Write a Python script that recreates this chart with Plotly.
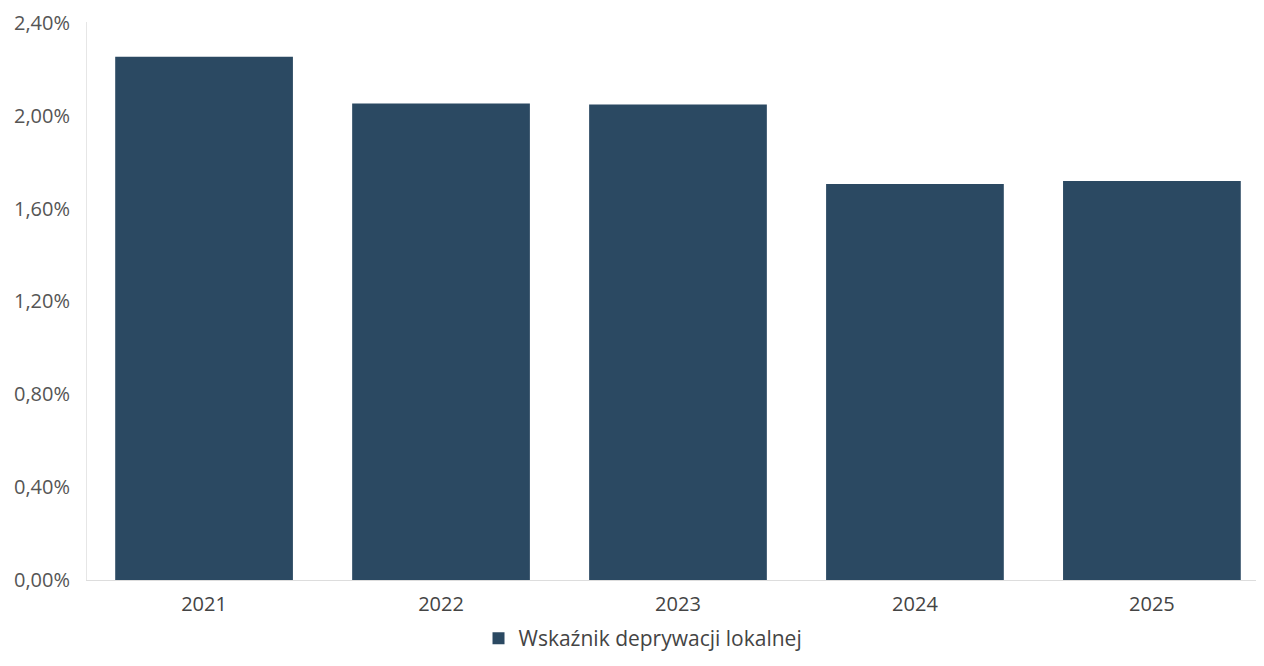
import plotly.graph_objects as go

years = ["2021", "2022", "2023", "2024", "2025"]
values = [0.02254, 0.02053, 0.02049, 0.01706, 0.01719]
series_name = "Wskaźnik deprywacji lokalnej"
y_ticks = [0, 0.004, 0.008, 0.012, 0.016, 0.020, 0.024]

fig = go.Figure()
fig.add_trace(go.Bar(
    x=years, y=values, name=series_name,
    marker=dict(color="#2b4962", line=dict(width=0)),
    showlegend=True,
))

fig.update_layout(
    width=1256, height=658,
    margin=dict(l=79, r=0, t=14, b=86, autoexpand=False),
    paper_bgcolor="white", plot_bgcolor="white",
    separators=", ",
    bargap=0.25,
    font=dict(family="Open Sans", size=20, color="#555555"),
    showlegend=True,
    legend=dict(orientation="h", x=0.4724, xanchor="center", y=-0.105, yanchor="middle",
                font=dict(size=21, color="#444444")),
    xaxis=dict(range=[-0.494, 4.473], showline=True, linecolor="#dddddd", linewidth=1,
               showgrid=False, ticks="", ticklabelstandoff=6,
               tickfont=dict(size=20, color="#444444")),
    yaxis=dict(range=[0, 0.02404], tickvals=y_ticks, tickformat=".2%", showgrid=False,
               showline=True, linecolor="#e6e6e6", linewidth=1, zeroline=False,
               ticks="", ticklabelstandoff=12, ticklabeloverflow="allow",
               tickfont=dict(size=20, color="#555555")),
)

fig.write_html("out.html")
